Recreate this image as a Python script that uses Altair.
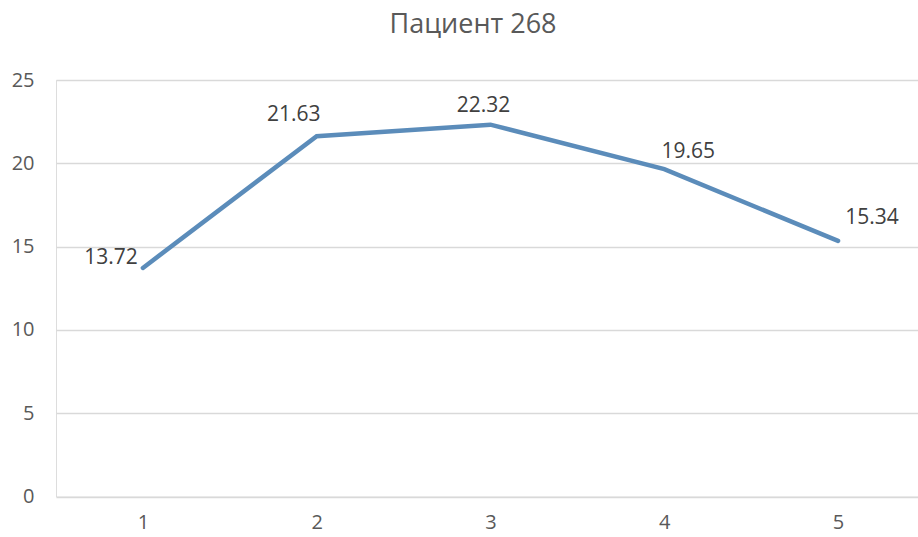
import altair as alt
import pandas as pd

measurements = [1, 2, 3, 4, 5]
values = [13.72, 21.63, 22.32, 19.65, 15.34]
value_labels = ["13.72", "21.63", "22.32", "19.65", "15.34"]
y_ticks = [0, 5, 10, 15, 20, 25]
title_text = "Пациент 268"

# label placement offsets (style, not data)
label_dx = [-32, -23, -7, 24, 34]
label_dy = [-10, -21, -19, -17, -23]

df = pd.DataFrame({"m": measurements, "v": values, "lab": value_labels})

FONT = "Open Sans"

x_enc = alt.X("m:Q", scale=alt.Scale(domain=[0.5, 5.46], nice=False, zero=False),
              axis=alt.Axis(values=measurements, format="d", title=None, grid=False,
                            domain=False, ticks=False, tickSize=0, labelPadding=16,
                            labelFont=FONT, labelFontSize=20, labelColor="#595959"))
y_enc = alt.Y("v:Q", scale=alt.Scale(domain=[0, 25], nice=False),
              axis=alt.Axis(values=y_ticks, title=None, grid=True, gridColor="#D9D9D9",
                            gridWidth=1.3, domain=False, ticks=False, tickSize=0,
                            labelPadding=22, labelFont=FONT, labelFontSize=20,
                            labelColor="#595959"))

base = alt.Chart(df)
line = base.mark_line(color="#5B8CBA", strokeWidth=4.5, strokeCap="round").encode(x=x_enc, y=y_enc)

layers = [line]
for i, lab in enumerate(value_labels):
    t = base.transform_filter(alt.datum.lab == lab).mark_text(
        font=FONT, fontSize=21, color="#404040", align="center", baseline="middle",
        dx=label_dx[i], dy=label_dy[i]
    ).encode(x="m:Q", y="v:Q", text="lab:N")
    layers.append(t)

chart = alt.layer(*layers).properties(
    width=862, height=416.5,
    autosize=alt.AutoSizeParams(type="none"),
    padding={"left": 56, "top": 80, "right": 0, "bottom": 40},
    title=alt.TitleParams(title_text, font=FONT, fontSize=27, fontWeight="normal",
                          color="#595959", anchor="middle", dx=-14, offset=10,
                          baseline="alphabetic"),
).configure_view(stroke=None).configure(background="white")

chart.save("out.html", embed_options={"renderer": "svg", "actions": False})
